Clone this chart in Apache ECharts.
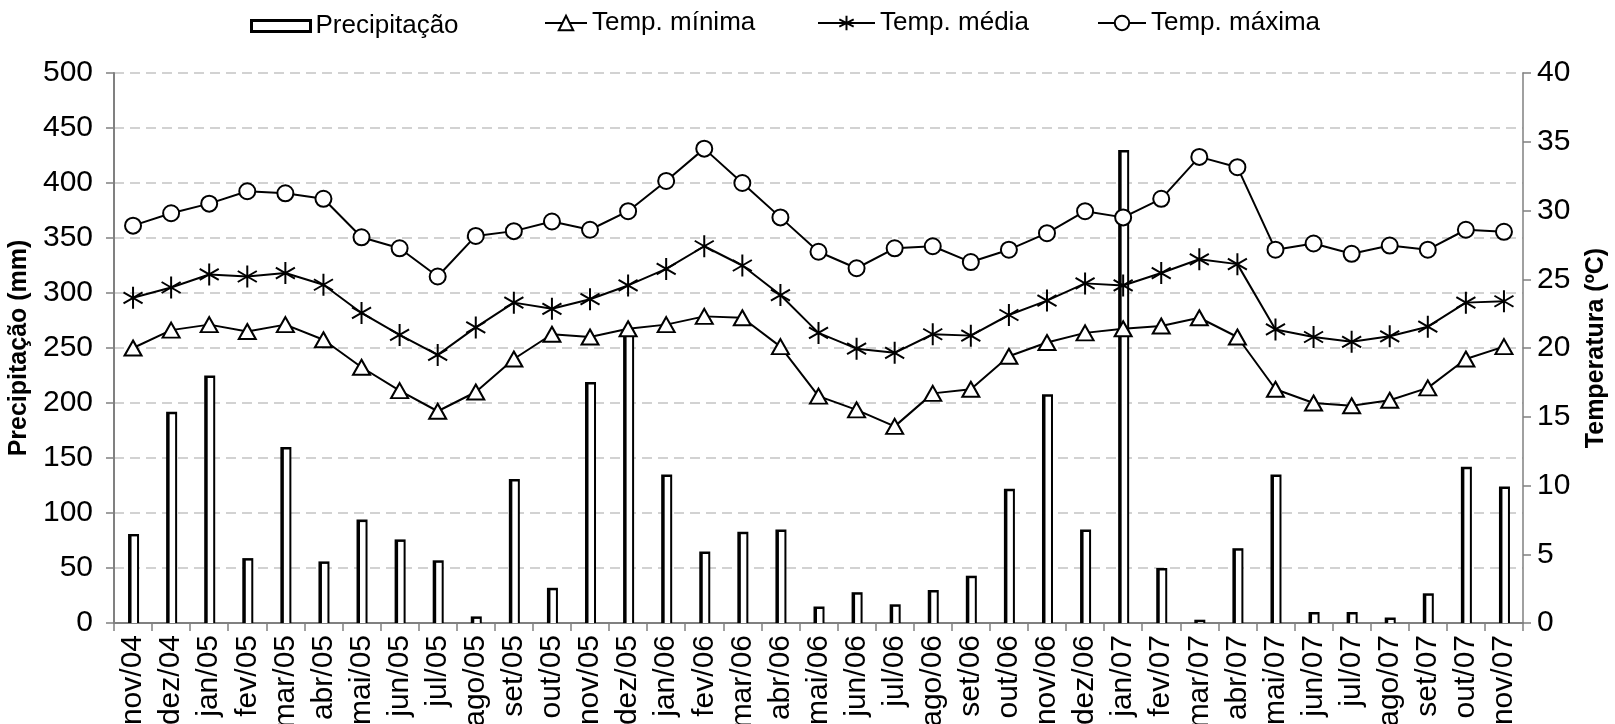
<!DOCTYPE html>
<html>
<head>
<meta charset="utf-8">
<script src="https://cdn.jsdelivr.net/npm/echarts@6/dist/echarts.min.js"></script>
<style>
html,body{margin:0;padding:0;background:#fff;}
#chart{width:1615px;height:724px;}
</style>
</head>
<body>
<div id="chart"></div>
<script>
const categories = ['nov/04','dez/04','jan/05','fev/05','mar/05','abr/05','mai/05','jun/05','jul/05','ago/05','set/05','out/05','nov/05','dez/05','jan/06','fev/06','mar/06','abr/06','mai/06','jun/06','jul/06','ago/06','set/06','out/06','nov/06','dez/06','jan/07','fev/07','mar/07','abr/07','mai/07','jun/07','jul/07','ago/07','set/07','out/07','nov/07'];
const precipitacao = [81,192,225,59,160,56,94,76,57,6,131,32,219,268,135,65,83,85,15,28,17,30,43,122,208,85,430,50,3,68,135,10,10,5,27,142,124];
const tempMinima = [20.0,21.3,21.7,21.2,21.7,20.6,18.6,16.9,15.4,16.8,19.2,21.0,20.8,21.4,21.7,22.3,22.2,20.1,16.5,15.5,14.3,16.7,17.0,19.4,20.4,21.1,21.4,21.6,22.2,20.8,17.0,16.0,15.8,16.2,17.1,19.2,20.1];
const tempMedia = [23.65,24.4,25.35,25.2,25.45,24.6,22.55,20.95,19.5,21.5,23.3,22.85,23.55,24.55,25.75,27.4,26.0,23.85,21.1,19.95,19.65,21.0,20.9,22.4,23.45,24.7,24.55,25.45,26.45,26.1,21.35,20.8,20.45,20.85,21.55,23.3,23.4];
const tempMaxima = [28.9,29.8,30.5,31.4,31.25,30.85,28.05,27.25,25.2,28.15,28.5,29.2,28.6,29.95,32.15,34.5,32.0,29.5,27.0,25.8,27.25,27.4,26.25,27.15,28.35,29.95,29.5,30.85,33.9,33.15,27.15,27.6,26.85,27.45,27.15,28.6,28.45];
const precipTicks = {min:0, max:500, interval:50};
const tempTicks = {min:0, max:40, interval:5};

const FONT = '"Liberation Sans", Arial, sans-serif';
const FS = 30;
const TITLE_FS = 25;
const asterisk = 'path://M10,0L10,20M1.34,5L18.66,15M1.34,15L18.66,5';

const chart = echarts.init(document.getElementById('chart'), null, {renderer:'canvas'});
const legendText = {fontFamily: FONT, fontSize: 26, color: '#000'};
const lineSeries = (name, data, symbol, size) => ({
  name, type:'line', yAxisIndex:1, data,
  symbol, symbolSize:size, symbolKeepAspect:true,
  lineStyle:{color:'#000', width:2},
  itemStyle:{color:'#000', borderColor:'#000', borderWidth:2},
  emphasis:{disabled:true}, animation:false, z:3
});

function renderBar(params, api) {
  const i = api.value(0);
  const v = api.value(1);
  const top = api.coord([i, v]);
  const base = api.coord([i, 0]);
  const x0 = top[0] - 5;
  const h = base[1] - top[1];
  const children = [
    {type:'rect', shape:{x:x0, y:top[1], width:11, height:h}, style:{fill:'#000'}}
  ];
  if (h > 3) {
    children.push({type:'rect', shape:{x:x0 + 3.5, y:top[1] + 2.5, width:5.5, height:h - 2.5}, style:{fill:'#fff'}});
  }
  return {type:'group', children};
}

chart.setOption({
  animation:false,
  textStyle:{fontFamily:FONT, color:'#000'},
  legend:[
    {data:[{name:'Precipitação', icon:'rect', itemStyle:{color:'#fff', borderColor:'#000', borderWidth:3}}],
     left:245, top:8, itemWidth:59, itemHeight:11, textStyle:legendText},
    {data:['Temp. mínima'], left:539, top:5, itemWidth:42, itemHeight:18, textStyle:legendText},
    {data:['Temp. média'], left:812, top:5, itemWidth:57, itemHeight:18, textStyle:legendText},
    {data:['Temp. máxima'], left:1092, top:5, itemWidth:48, itemHeight:18, textStyle:legendText}
  ],
  grid:{left:114, right:92, top:73, bottom:101, containLabel:false, outerBoundsMode:'none'},
  xAxis:{
    type:'category', data:categories, boundaryGap:true,
    axisLine:{lineStyle:{color:'#808080', width:2}},
    axisTick:{show:true, length:8, lineStyle:{color:'#808080', width:1.5}},
    axisLabel:{rotate:90, interval:0, fontSize:FS, fontFamily:FONT, color:'#000', margin:12}
  },
  yAxis:[
    {type:'value', min:precipTicks.min, max:precipTicks.max, interval:precipTicks.interval,
     name:'Precipitação (mm)', nameLocation:'middle', nameGap:76,
     nameTextStyle:{fontSize:TITLE_FS, fontWeight:'bold', fontFamily:FONT, color:'#000'},
     axisLine:{show:true, lineStyle:{color:'#808080', width:2}},
     axisTick:{show:true, length:8, lineStyle:{color:'#808080', width:1.5}},
     axisLabel:{fontSize:FS, fontFamily:FONT, color:'#000', margin:21},
     splitLine:{show:true, lineStyle:{color:'#c4c4c4', type:[10,6], width:1.5}}
    },
    {type:'value', min:tempTicks.min, max:tempTicks.max, interval:tempTicks.interval, position:'right',
     name:'Temperatura (ºC)', nameLocation:'middle', nameGap:61,
     nameTextStyle:{fontSize:TITLE_FS, fontWeight:'bold', fontFamily:FONT, color:'#000'},
     axisLine:{show:true, lineStyle:{color:'#808080', width:1.5}},
     axisTick:{show:true, length:8, lineStyle:{color:'#808080', width:1.5}},
     axisLabel:{fontSize:FS, fontFamily:FONT, color:'#000', margin:14},
     splitLine:{show:false}
    }
  ],
  series:[
    {name:'Precipitação', type:'custom', yAxisIndex:0, renderItem:renderBar,
     data:precipitacao.map((v, i) => [i, v]), encode:{x:0, y:1},
     itemStyle:{color:'#fff', borderColor:'#000'}, z:2},
    lineSeries('Temp. mínima', tempMinima, 'emptyTriangle', [17,15]),
    lineSeries('Temp. média', tempMedia, asterisk, 22),
    lineSeries('Temp. máxima', tempMaxima, 'emptyCircle', 16)
  ]
});
</script>
</body>
</html>
